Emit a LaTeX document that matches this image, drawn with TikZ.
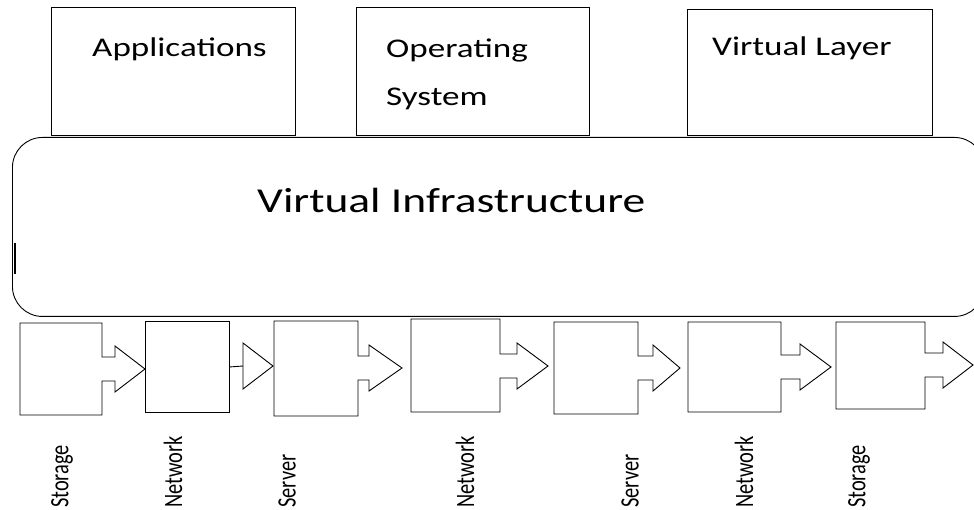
\documentclass[tikz,border=0pt]{standalone}
\usepackage{fontspec}
\usepackage{tikz}
\setmainfont{Carlito}
\newfontfamily\widefont[FakeStretch=1.3]{Carlito}
\newfontfamily\narrowfont[FakeStretch=0.77]{Carlito}

% block with a notched arrow on its right side:
% left, right, top, bottom, arrow y, stem end, tip
\newcommand{\linkblock}[7]{%
  \draw[block] (#1,#3) -- (#2,#3) -- (#2,#5-12) -- (#6,#5-12) -- (#6,#5-23)
    -- (#7,#5) -- (#6,#5+23) -- (#6,#5+12) -- (#2,#5+12) -- (#2,#4) -- (#1,#4) -- cycle;
}

\begin{document}
\begin{tikzpicture}[x=1pt, y=-1pt,
    box/.style={draw, line width=0.9pt, inner sep=0pt},
    block/.style={draw, line width=0.9pt},
    toptext/.style={anchor=base west, inner sep=0pt, font=\widefont\fontsize{27}{30}\selectfont},
    vlabel/.style={rotate=90, anchor=west, inner sep=0pt, font=\narrowfont\fontsize{26.5}{28}\selectfont}]

    \useasboundingbox (0,0) rectangle (974,510);

    % upper layer
    \node[box, anchor=north west, minimum width=244pt, minimum height=128pt] (app) at (51,7) {};
    \node[box, anchor=north west, minimum width=233pt, minimum height=128pt] (os) at (356,7) {};
    \node[box, anchor=north west, minimum width=245pt, minimum height=126pt] (vl) at (687,9) {};

    \node[toptext] (apptext) at (92,57) {Applications};
    \node[toptext] (ostext) at (386,58) {Operating};
    \node[toptext] (ostext2) at (386,106) {System};
    \node[toptext] (vltext) at (712,56) {Virtual Layer};

    % infrastructure
    \node[draw, line width=0.9pt, rounded corners=30pt, minimum width=972pt,
          minimum height=179pt, anchor=north west] (infra) at (12,137) {};
    \node[anchor=base west, inner sep=0pt, font=\widefont\fontsize{35}{40}\selectfont]
          (infratext) at (257,213) {Virtual Infrastructure};
    \draw[line width=1.4pt] (15,243) -- (15,274);

    % chain of resources
    \linkblock{20}{102}{323}{415}{369}{115}{145}
    \node[box, anchor=north west, minimum width=84pt, minimum height=91pt] (net1) at (145,321) {};
    \coordinate (tri) at (243,366);
    \draw[block] (net1.east) -- (tri);
    \draw[block] (tri) -- (243,343) -- (273,366) -- (243,389) -- cycle;
    \linkblock{274}{358}{321}{416}{368}{369}{402}
    \linkblock{411}{500}{319}{412}{366}{517}{548}
    \linkblock{554}{638}{322}{414}{368}{653}{680}
    \linkblock{688}{781}{322}{412}{367}{800}{831}
    \linkblock{836}{925}{322}{409}{365}{943}{973}

    \node[vlabel] (st1) at (62,508) {Storage};
    \node[vlabel] (nw1) at (173,508) {Network};
    \node[vlabel] (sv1) at (287,508) {Server};
    \node[vlabel] (nw2) at (465,508) {Network};
    \node[vlabel] (sv2) at (630,508) {Server};
    \node[vlabel] (nw3) at (744,508) {Network};
    \node[vlabel] (st2) at (859,508) {Storage};

\end{tikzpicture}
\end{document}
